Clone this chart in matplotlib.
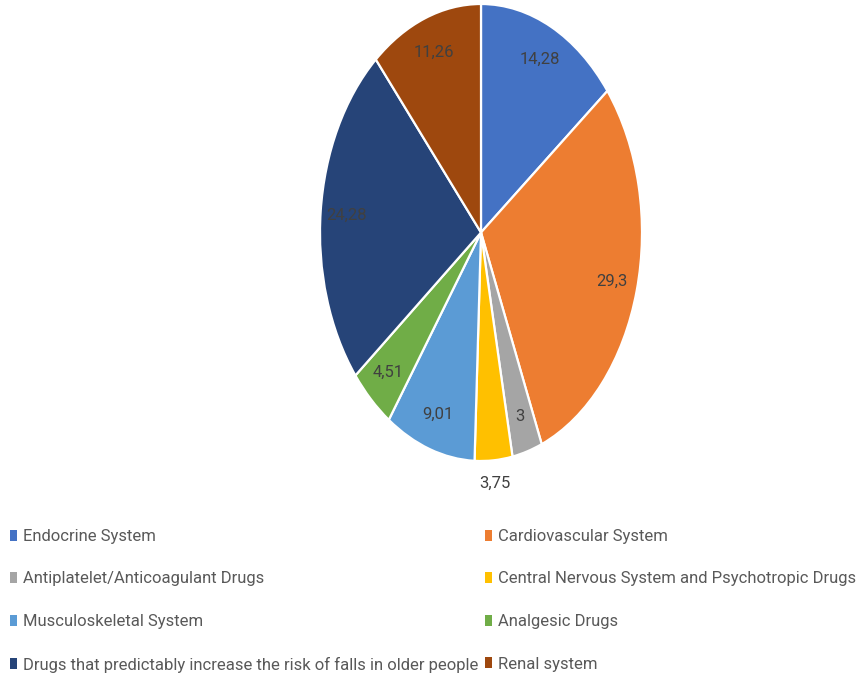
import numpy as np
import matplotlib
matplotlib.use("Agg")
import matplotlib.pyplot as plt
from matplotlib.patches import Patch

plt.rcParams['font.family'] = ['Roboto', 'DejaVu Sans']

categories = [
    "Endocrine System",
    "Cardiovascular System",
    "Antiplatelet/Anticoagulant Drugs",
    "Central Nervous System and Psychotropic Drugs",
    "Musculoskeletal System",
    "Analgesic Drugs",
    "Drugs that predictably increase the risk of falls in older people",
    "Renal system",
]
values = [14.28, 29.3, 3, 3.75, 9.01, 4.51, 24.28, 11.26]
value_labels = ["14,28", "29,3", "3", "3,75", "9,01", "4,51", "24,28", "11,26"]
colors = ["#4472C4", "#ED7D31", "#A5A5A5", "#FFC000",
          "#5B9BD5", "#70AD47", "#264478", "#9E480E"]

fig = plt.figure(figsize=(8.57, 6.79), dpi=100)
# pie is drawn stretched vertically, so the axes box is taller than wide
ax = fig.add_axes([320 / 857, 1 - 461 / 679, 322 / 857, 457 / 679])

wedges, _ = ax.pie(values, colors=colors, startangle=90, counterclock=False,
                   wedgeprops=dict(edgecolor="white", linewidth=1.6))
ax.set_aspect("auto")
ax.set_xlim(-1, 1)
ax.set_ylim(-1, 1)
ax.axis("off")

# value labels inside the slices; the thin yellow one sits outside
for w, txt, cat in zip(wedges, value_labels, categories):
    mid = np.deg2rad((w.theta1 + w.theta2) / 2)
    r = 1.1 if cat.startswith("Central") else 0.84
    ax.text(r * np.cos(mid), r * np.sin(mid), txt, ha="center", va="center",
            fontsize=12, color="#404040", clip_on=False)

# legend rows read left-to-right, so order handles column by column
order = [0, 2, 4, 6, 1, 3, 5, 7]
handles = [Patch(facecolor=colors[i], edgecolor="none") for i in order]
labels = [categories[i] for i in order]
fig.legend(handles, labels, ncol=2, loc="upper left",
           bbox_to_anchor=(10 / 857, 1 - 529 / 679), frameon=False,
           fontsize=12, labelcolor="#595959",
           handlelength=0.42, handleheight=0.62, handletextpad=0.35,
           labelspacing=1.65, columnspacing=0.4, borderaxespad=0, borderpad=0)

fig.savefig("out.png", dpi=100)
